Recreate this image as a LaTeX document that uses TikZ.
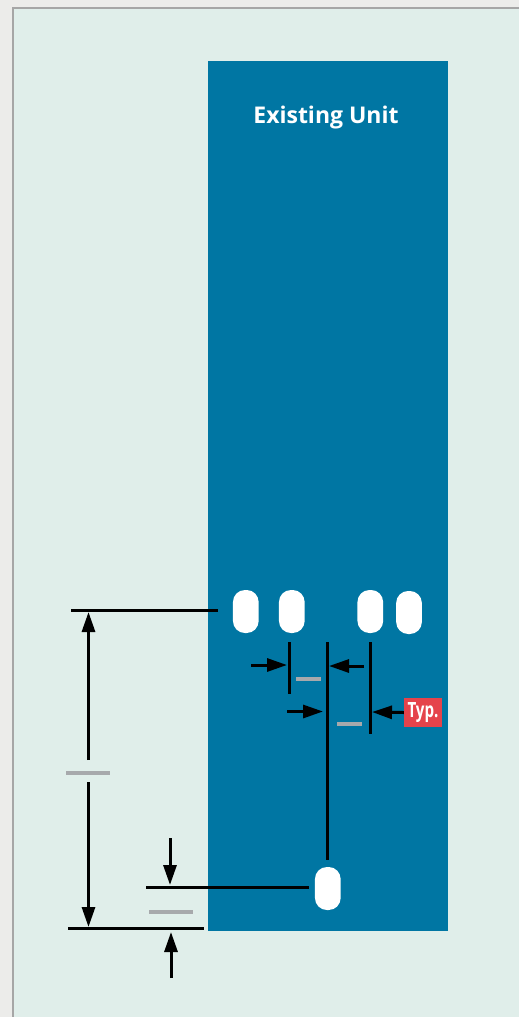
\documentclass[tikz,border=0pt]{standalone}
\usepackage{fontspec}
\setmainfont{Open Sans}
\usetikzlibrary{arrows.meta, calc}
\definecolor{pagegrey}{HTML}{ECECEA}
\definecolor{panelgreen}{HTML}{E0EEEA}
\definecolor{unitblue}{HTML}{0076A3}
\definecolor{typred}{HTML}{E5434B}
\definecolor{dashgrey}{HTML}{A7A9AC}
\tikzset{
    dimline/.style={draw=black, line width=3pt},
    dimarrow/.style={dimline, arrows={-{Triangle[length=20pt, width=13pt]}}},
    slot/.style={fill=white, rounded corners=12pt, minimum width=25.7pt, minimum height=43pt, inner sep=0pt},
    blank/.style={fill=dashgrey, minimum height=3.8pt, inner sep=0pt},
}

\begin{document}
\begin{tikzpicture}[x=1pt, y=-1pt]
        \useasboundingbox (0, 0) rectangle (519, 1017);
        \fill [pagegrey] (0, 0) rectangle (519, 1017);
        \fill [panelgreen] (13, 8) rectangle (519, 1017);
        \draw [black!35, line width=1.2pt] (13, 1017) -- (13, 8) -- (519, 8);
        \node [fill=unitblue, minimum width=240pt, minimum height=870pt, inner sep=0pt] (unit) at (328, 496) {};
        \node [text=white, font=\bfseries\fontsize{23}{26}\selectfont, inner sep=0pt] (title) at (326, 118) {Existing Unit};
        % slots
        \node [slot] (slota) at (245.8, 611.5) {};
        \node [slot] (slotb) at (291.8, 611.5) {};
        \node [slot] (slotc) at (370.3, 611.5) {};
        \node [slot] (slotd) at (409, 612.5) {};
        \node [slot] (slote) at (327.8, 888.5) {};
        % leaders
        \coordinate (topa) at (71, 610.5);
        \coordinate (topb) at (218, 610.5);
        \coordinate (bota) at (68, 928.5);
        \coordinate (botb) at (204, 928.5);
        \coordinate (mida) at (146, 887.5);
        \coordinate (midb) at (309, 887.5);
        \draw [dimline] (topa) -- (topb);
        \draw [dimline] (bota) -- (botb);
        \draw [dimline] (mida) -- (midb);
        \coordinate (lineatop) at (289.7, 642);
        \coordinate (lineabot) at (289.7, 693.5);
        \coordinate (linebtop) at (327.5, 642);
        \coordinate (linebbot) at (327.5, 860);
        \coordinate (linectop) at (370.5, 642);
        \coordinate (linecbot) at (370.5, 734);
        \draw [dimline] (lineatop) -- (lineabot);
        \draw [dimline] (linebtop) -- (linebbot);
        \draw [dimline] (linectop) -- (linecbot);
        % blanks
        \node [blank, minimum width=25pt] (blanka) at (308.5, 679) {};
        \node [blank, minimum width=25pt] (blankb) at (349.5, 724) {};
        \node [blank, minimum width=44pt] (blankc) at (88, 773) {};
        \node [blank, minimum width=44pt] (blankd) at (171, 912) {};
        \node [fill=typred, text=white, minimum width=38pt, minimum height=29pt, inner sep=0pt, font=\bfseries\fontsize{21}{24}\selectfont] (typ) at (423, 712.5) {\raisebox{-1pt}{\scalebox{0.72}[1]{Typ.}}};
        % arrows
        \coordinate (longup) at (88.5, 760);
        \coordinate (longupend) at (88.5, 612);
        \coordinate (longdown) at (88.5, 782);
        \coordinate (longdownend) at (88.5, 927);
        \draw [dimarrow] (longup) -- (longupend);
        \draw [dimarrow] (longdown) -- (longdownend);
        \coordinate (ina) at (251, 665);
        \coordinate (inaend) at (287, 665);
        \draw [dimarrow] (ina) -- (inaend);
        \coordinate (inb) at (364, 666);
        \coordinate (inbend) at (329, 666);
        \draw [dimarrow] (inb) -- (inbend);
        \coordinate (inc) at (287, 711.5);
        \coordinate (incend) at (323, 711.5);
        \draw [dimarrow] (inc) -- (incend);
        \coordinate (typend) at (372, 712);
        \draw [dimarrow] (typ.west) -- (typend);
        \coordinate (ind) at (170, 838);
        \coordinate (indend) at (170, 885);
        \draw [dimarrow] (ind) -- (indend);
        \coordinate (ine) at (171, 978);
        \coordinate (ineend) at (171, 932);
        \draw [dimarrow] (ine) -- (ineend);
    \end{tikzpicture}
\end{document}
